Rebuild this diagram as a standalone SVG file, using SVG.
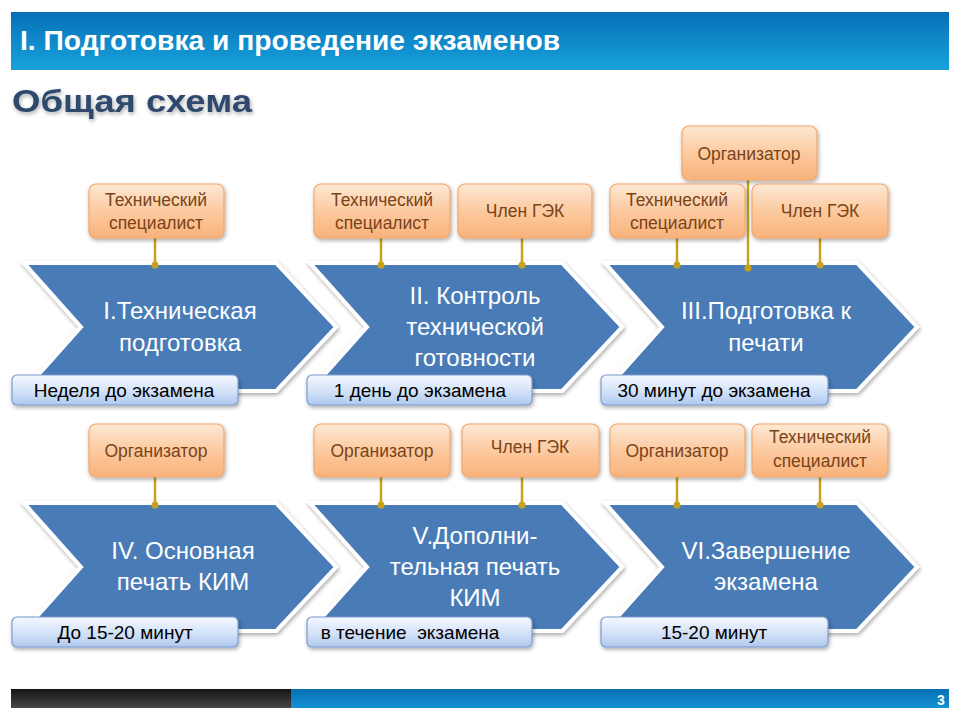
<svg xmlns="http://www.w3.org/2000/svg" width="960" height="720" viewBox="0 0 960 720">
<defs>
<linearGradient id="gTitle" x1="0" y1="0" x2="0" y2="1"><stop offset="0" stop-color="#0670b6"/><stop offset="1" stop-color="#18a2dc"/></linearGradient>
<linearGradient id="gDark" x1="0" y1="0" x2="0" y2="1"><stop offset="0" stop-color="#151515"/><stop offset="1" stop-color="#474747"/></linearGradient>
<linearGradient id="gBlue" x1="0" y1="0" x2="0" y2="1"><stop offset="0" stop-color="#0670b4"/><stop offset="1" stop-color="#1592d2"/></linearGradient>
<linearGradient id="gOr" x1="0" y1="0" x2="0" y2="1"><stop offset="0" stop-color="#fde8d4"/><stop offset="0.5" stop-color="#fccaa0"/><stop offset="1" stop-color="#f9b27a"/></linearGradient>
<linearGradient id="gLb" x1="0" y1="0" x2="0" y2="1"><stop offset="0" stop-color="#f4f8ff"/><stop offset="0.5" stop-color="#d6e4f8"/><stop offset="1" stop-color="#aec8ee"/></linearGradient>
<filter id="sh" x="-10%" y="-10%" width="125%" height="130%"><feGaussianBlur in="SourceAlpha" stdDeviation="2"/><feOffset dx="1" dy="2"/><feComponentTransfer><feFuncA type="linear" slope="0.35"/></feComponentTransfer><feMerge><feMergeNode/><feMergeNode in="SourceGraphic"/></feMerge></filter>
<polygon id="chev" points="0,0 252,0 312,64 252,128 0,128 57,64"/>
</defs>
<style>
.chev{fill:#4a7bb7;stroke:#ffffff;stroke-width:4;stroke-linejoin:miter;filter:url(#sh)}
.ct{font-family:"Liberation Sans","Open Sans",sans-serif;font-size:24px;fill:#ffffff;text-anchor:middle}
.ob{fill:url(#gOr);stroke:#f2a66a;stroke-width:1.2;filter:url(#sh)}
.ot{font-family:"Liberation Sans","Open Sans",sans-serif;font-size:17.5px;fill:#7a4418;text-anchor:middle}
.db{fill:url(#gLb);stroke:#7d9ccf;stroke-width:1.2;filter:url(#sh)}
.dt{font-family:"Liberation Sans","Open Sans",sans-serif;font-size:19px;fill:#000000;text-anchor:middle}
.ln{stroke:#c9a21c;stroke-width:2.5;fill:none}
.dot{fill:#c9a21c}
</style>
<rect x="11" y="12" width="938" height="58" fill="url(#gTitle)"/>
<text x="20" y="50" font-family="Liberation Sans Narrow,Liberation Sans,sans-serif" font-size="27" font-weight="bold" fill="#ffffff" textLength="540" lengthAdjust="spacingAndGlyphs">I. Подготовка и проведение экзаменов</text>
<text x="12" y="112" font-family="Liberation Sans,sans-serif" font-size="31" font-weight="bold" fill="#2d4a6c" textLength="240" lengthAdjust="spacingAndGlyphs" filter="url(#sh)">Общая схема</text>

<g id="stage1"><use href="#chev" class="chev" x="24" y="263"/><text class="ct" x="180" y="319">I.Техническая</text><text class="ct" x="180" y="351">подготовка</text></g>
<g id="stage2"><use href="#chev" class="chev" x="310" y="263"/><text class="ct" x="475" y="304">II. Контроль</text><text class="ct" x="475" y="335">технической</text><text class="ct" x="475" y="366">готовности</text></g>
<g id="stage3"><use href="#chev" class="chev" x="605" y="263"/><text class="ct" x="766" y="319">III.Подготовка к</text><text class="ct" x="766" y="351">печати</text></g>
<g id="stage4"><use href="#chev" class="chev" x="24" y="503"/><text class="ct" x="183" y="559">IV. Основная</text><text class="ct" x="183" y="590">печать КИМ</text></g>
<g id="stage5"><use href="#chev" class="chev" x="310" y="503"/><text class="ct" x="475" y="544">V.Дополни-</text><text class="ct" x="475" y="575">тельная печать</text><text class="ct" x="475" y="606">КИМ</text></g>
<g id="stage6"><use href="#chev" class="chev" x="605" y="503"/><text class="ct" x="766" y="559">VI.Завершение</text><text class="ct" x="766" y="590">экзамена</text></g>

<g id="connectors">
<line class="ln" x1="155" y1="238" x2="155" y2="265"/><circle class="dot" cx="155" cy="265" r="3.5"/>
<line class="ln" x1="381" y1="238" x2="381" y2="265"/><circle class="dot" cx="381" cy="265" r="3.5"/>
<line class="ln" x1="522" y1="238" x2="522" y2="265"/><circle class="dot" cx="522" cy="265" r="3.5"/>
<line class="ln" x1="677" y1="238" x2="677" y2="265"/><circle class="dot" cx="677" cy="265" r="3.5"/>
<line class="ln" x1="748" y1="180" x2="748" y2="268"/><circle class="dot" cx="748" cy="268" r="3.5"/>
<line class="ln" x1="820" y1="238" x2="820" y2="265"/><circle class="dot" cx="820" cy="265" r="3.5"/>
<line class="ln" x1="155" y1="477" x2="155" y2="505"/><circle class="dot" cx="155" cy="505" r="3.5"/>
<line class="ln" x1="381" y1="477" x2="381" y2="505"/><circle class="dot" cx="381" cy="505" r="3.5"/>
<line class="ln" x1="522" y1="477" x2="522" y2="505"/><circle class="dot" cx="522" cy="505" r="3.5"/>
<line class="ln" x1="677" y1="477" x2="677" y2="505"/><circle class="dot" cx="677" cy="505" r="3.5"/>
<line class="ln" x1="820" y1="477" x2="820" y2="505"/><circle class="dot" cx="820" cy="505" r="3.5"/>
</g>

<g id="r1a"><rect class="ob" x="89" y="184" width="135" height="54" rx="7"/><text class="ot" x="156" y="206">Технический</text><text class="ot" x="156" y="229">специалист</text></g>
<g id="r2a"><rect class="ob" x="314" y="184" width="136" height="54" rx="7"/><text class="ot" x="382" y="206">Технический</text><text class="ot" x="382" y="229">специалист</text></g>
<g id="r2b"><rect class="ob" x="458" y="184" width="134" height="54" rx="7"/><text class="ot" x="525" y="217">Член ГЭК</text></g>
<g id="r3o"><rect class="ob" x="682" y="126" width="135" height="54" rx="7"/><text class="ot" x="749" y="160">Организатор</text></g>
<g id="r3a"><rect class="ob" x="610" y="184" width="135" height="54" rx="7"/><text class="ot" x="677" y="206">Технический</text><text class="ot" x="677" y="229">специалист</text></g>
<g id="r3b"><rect class="ob" x="752" y="184" width="136" height="54" rx="7"/><text class="ot" x="820" y="217">Член ГЭК</text></g>
<g id="r4a"><rect class="ob" x="89" y="424" width="135" height="53" rx="7"/><text class="ot" x="156" y="457">Организатор</text></g>
<g id="r5a"><rect class="ob" x="314" y="424" width="136" height="53" rx="7"/><text class="ot" x="382" y="457">Организатор</text></g>
<g id="r5b"><rect class="ob" x="462" y="424" width="137" height="53" rx="7"/><text class="ot" x="530" y="453">Член ГЭК</text></g>
<g id="r6a"><rect class="ob" x="610" y="424" width="135" height="53" rx="7"/><text class="ot" x="677" y="457">Организатор</text></g>
<g id="r6b"><rect class="ob" x="752" y="424" width="136" height="53" rx="7"/><text class="ot" x="820" y="443">Технический</text><text class="ot" x="820" y="467">специалист</text></g>

<g id="d1"><rect class="db" x="12" y="375" width="226" height="30" rx="5"/><text class="dt" x="124" y="397">Неделя до экзамена</text></g>
<g id="d2"><rect class="db" x="307" y="375" width="225" height="30" rx="5"/><text class="dt" x="420" y="397">1 день до экзамена</text></g>
<g id="d3"><rect class="db" x="601" y="375" width="227" height="30" rx="5"/><text class="dt" x="714" y="397">30 минут до экзамена</text></g>
<g id="d4"><rect class="db" x="12" y="617" width="226" height="30" rx="5"/><text class="dt" x="125" y="639">До 15-20 минут</text></g>
<g id="d5"><rect class="db" x="307" y="617" width="225" height="30" rx="5"/><text class="dt" x="410" y="639" xml:space="preserve">в течение  экзамена</text></g>
<g id="d6"><rect class="db" x="601" y="617" width="227" height="30" rx="5"/><text class="dt" x="714" y="639">15-20 минут</text></g>

<rect x="11" y="689" width="280" height="19" fill="url(#gDark)"/>
<rect x="291" y="689" width="658" height="19" fill="url(#gBlue)"/>
<text x="941" y="705" font-family="Liberation Sans,sans-serif" font-size="14" font-weight="bold" fill="#ffffff" text-anchor="middle">3</text>
</svg>
